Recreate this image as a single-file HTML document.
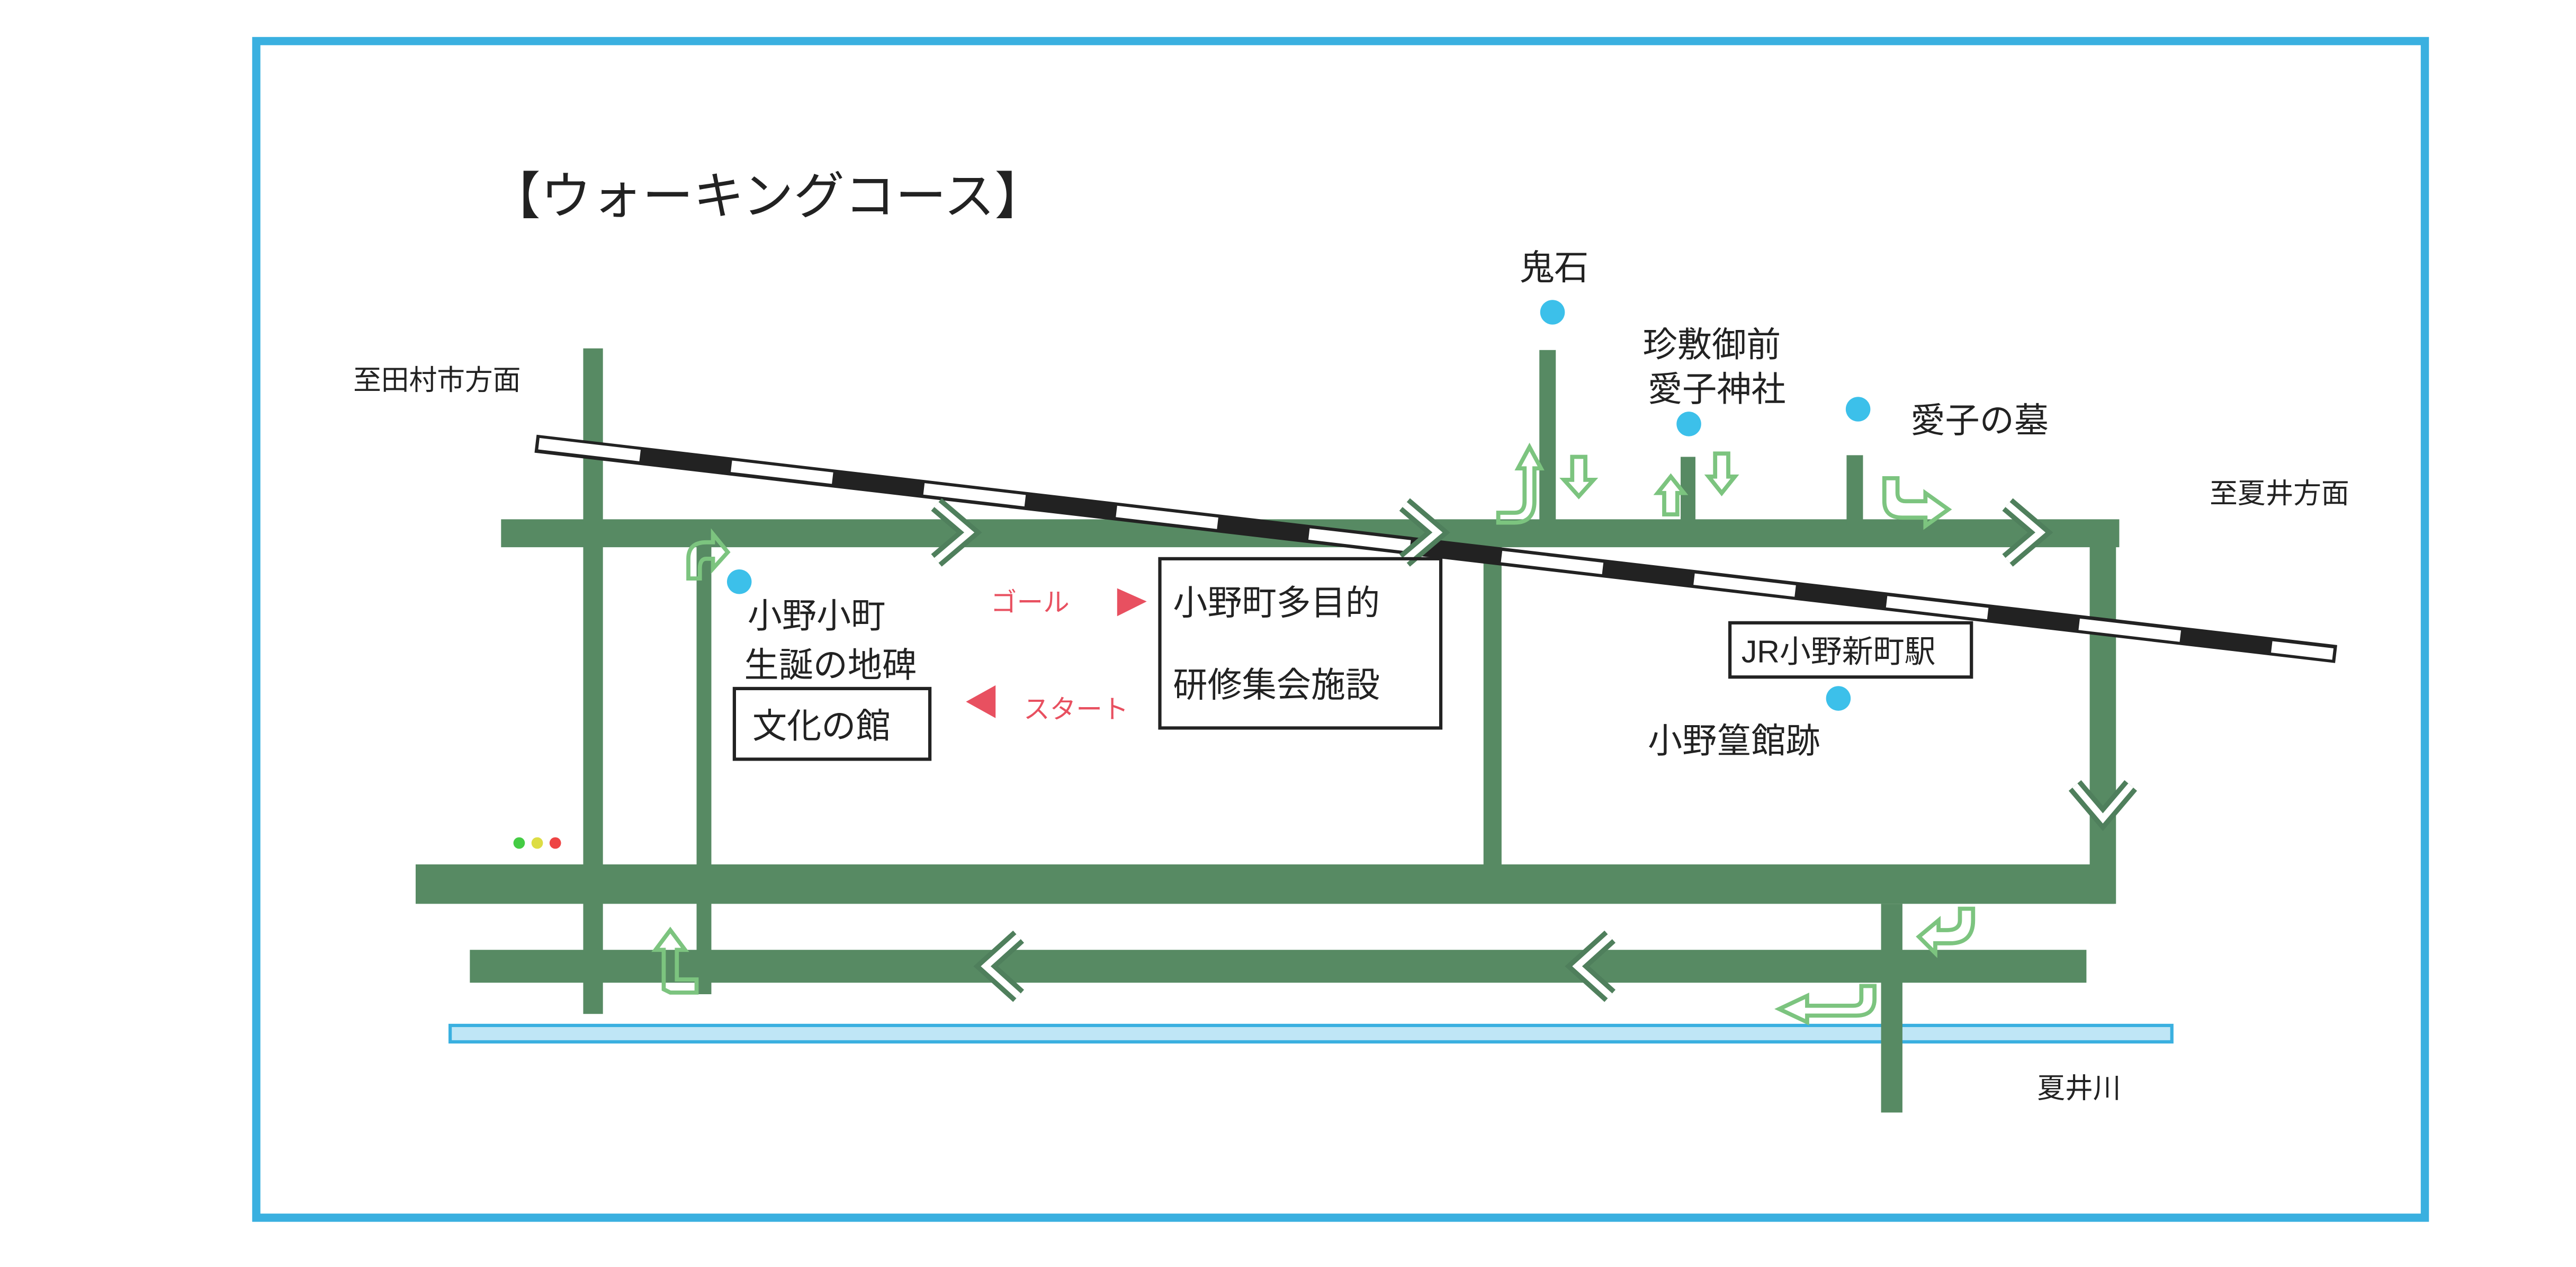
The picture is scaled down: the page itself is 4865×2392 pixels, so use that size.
<!DOCTYPE html>
<html><head><meta charset="utf-8"><style>
html,body{margin:0;padding:0;background:#fff;}
svg{display:block;}
text{font-family:"Liberation Sans","Noto Sans CJK JP",sans-serif;fill:#222;}
</style></head><body>
<svg width="4865" height="2392" viewBox="0 0 1568 771" preserveAspectRatio="none" xmlns="http://www.w3.org/2000/svg">
<rect x="0" y="0" width="1568" height="771" fill="#fff"/>
<rect x="156" y="25" width="1320" height="716" fill="none" stroke="#3ab0e0" stroke-width="5"/>
<text x="298" y="130" font-size="31">【ウォーキングコース】</text>
<rect x="274" y="624" width="1048" height="10" fill="#bfe6f6" stroke="#3ab0e0" stroke-width="2"/>
<g fill="#578a63">
<rect x="305" y="316" width="985" height="17"/>
<rect x="355" y="212" width="12" height="405"/>
<rect x="424" y="330" width="9" height="275"/>
<rect x="903" y="330" width="11" height="200"/>
<rect x="1272" y="320" width="16" height="230"/>
<rect x="253" y="526" width="1034" height="24"/>
<rect x="286" y="578" width="984" height="20"/>
<rect x="1145" y="550" width="13" height="127"/>
<rect x="937" y="213" width="10" height="107"/>
<rect x="1023" y="278" width="9" height="42"/>
<rect x="1124" y="277" width="10" height="43"/>
</g>
<line x1="326" y1="270" x2="1422" y2="398" stroke="#222" stroke-width="11"/>
<line x1="328" y1="270" x2="1420" y2="398" stroke="#fff" stroke-width="7" stroke-dasharray="62 56"/>
<g fill="none" stroke-linejoin="miter">
<g stroke="#4f7f5c" stroke-width="10">
<polyline points="570,307 590,324 570,341"/>
<polyline points="855,307 875,324 855,341"/>
<polyline points="1222,307 1242,324 1222,341"/>
<polyline points="1263,478 1280,498 1297,478"/>
<polyline points="620,570 600,588 620,606"/>
<polyline points="980,570 960,588 980,606"/>
</g>
<g stroke="#fff" stroke-width="4">
<polyline points="570,307 590,324 570,341"/>
<polyline points="855,307 875,324 855,341"/>
<polyline points="1222,307 1242,324 1222,341"/>
<polyline points="1263,478 1280,498 1297,478"/>
<polyline points="620,570 600,588 620,606"/>
<polyline points="980,570 960,588 980,606"/>
</g>
</g>
<g fill="none" stroke="#7cc47f" stroke-width="2.5">
<path d="M419,352 L419,340 Q419,330 430,330 L434,330 L434,325 L443,336 L434,346 L434,340 L430,340 Q426,340 426,346 L426,352 Z"/>
<path d="M912,312 L922,312 Q928,312 928,305 L928,285 L924,285 L931,272 L938,285 L934,285 L934,305 Q934,318 922,318 L912,318 Z"/>
<path d="M957,278 L957,292 L952,292 L961,302 L970,292 L965,292 L965,278 Z"/>
<path d="M1013,313 L1013,300 L1009,300 L1017,290 L1025,300 L1021,300 L1021,313 Z"/>
<path d="M1044,276 L1044,290 L1040,290 L1048,300 L1056,290 L1052,290 L1052,276 Z"/>
<path d="M1147,291 L1147,305 Q1147,315 1158,315 L1172,315 L1172,320 L1186,310 L1172,300 L1172,305 L1160,305 Q1155,305 1155,300 L1155,291 Z"/>
<path d="M1193,553 L1193,560 Q1193,566 1185,566 L1180,566 L1180,560 L1168,570 L1178,580 L1178,574 L1187,574 Q1201,574 1201,560 L1201,553 Z"/>
<path d="M1133,600 L1133,608 Q1133,612 1128,612 L1100,612 L1100,606 L1083,614 L1100,622 L1100,618 L1130,618 Q1141,618 1141,608 L1141,600 Z"/>
<path d="M404,602 L404,578 L399,578 L408,566 L417,578 L412,578 L412,596 L424,596 L424,604 L408,604 Z"/>
</g>
<g fill="#3cc0ea">
<circle cx="945" cy="190" r="7.5"/>
<circle cx="1028" cy="258" r="7.5"/>
<circle cx="1131" cy="249" r="7.5"/>
<circle cx="450" cy="354" r="7.5"/>
<circle cx="1119" cy="425" r="7.5"/>
</g>
<circle cx="316" cy="513" r="3.5" fill="#4c4"/>
<circle cx="327" cy="513" r="3.5" fill="#dd4"/>
<circle cx="338" cy="513" r="3.5" fill="#e44"/>
<text x="925" y="170" font-size="21">鬼石</text>
<text x="1000" y="217" font-size="21">珍敷御前</text>
<text x="1003" y="244" font-size="21">愛子神社</text>
<text x="1163" y="263" font-size="21">愛子の墓</text>
<text x="215" y="237" font-size="17">至田村市方面</text>
<text x="1345" y="306" font-size="17">至夏井方面</text>
<text x="455" y="382" font-size="21">小野小町</text>
<text x="453" y="412" font-size="21">生誕の地碑</text>
<rect x="447" y="419" width="119" height="43" fill="none" stroke="#222" stroke-width="2"/>
<text x="458" y="449" font-size="21">文化の館</text>
<text x="603" y="372" font-size="16" style="fill:#e85060">ゴール</text>
<polygon points="680,358 698,366 680,375" fill="#e85060"/>
<text x="623" y="437" font-size="16" style="fill:#e85060">スタート</text>
<polygon points="606,417 588,427 606,437" fill="#e85060"/>
<rect x="706" y="340" width="171" height="103" fill="none" stroke="#222" stroke-width="2"/>
<text x="714" y="374" font-size="21">小野町多目的</text>
<text x="714" y="424" font-size="21">研修集会施設</text>
<rect x="1053" y="379" width="147" height="33" fill="#fff" stroke="#222" stroke-width="2"/>
<text x="1060" y="403" font-size="19">JR小野新町駅</text>
<text x="1003" y="458" font-size="21">小野篁館跡</text>
<text x="1240" y="668" font-size="17">夏井川</text>
</svg>
</body></html>
